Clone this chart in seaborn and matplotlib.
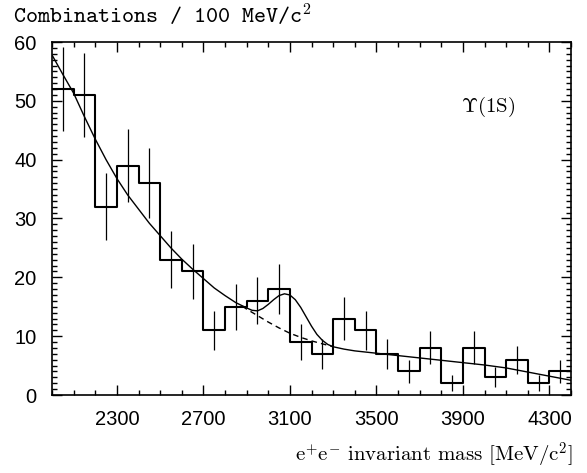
import numpy as np
import pandas as pd
import matplotlib
matplotlib.use("Agg")
import matplotlib.pyplot as plt
from matplotlib.ticker import FixedLocator, MultipleLocator
import seaborn as sns

# ---- data ----
bin_edges = [2000, 2100, 2200, 2300, 2400, 2500, 2600, 2700, 2800, 2900, 3000, 3100,
             3200, 3300, 3400, 3500, 3600, 3700, 3800, 3900, 4000, 4100, 4200, 4300, 4400]
bin_centers = [2050, 2150, 2250, 2350, 2450, 2550, 2650, 2750, 2850, 2950, 3050, 3150,
               3250, 3350, 3450, 3550, 3650, 3750, 3850, 3950, 4050, 4150, 4250, 4350]
counts = [52, 51, 32, 39, 36, 23, 21, 11, 15, 16, 18, 9,
          7, 13, 11, 7, 4, 8, 2, 8, 3, 6, 2, 4]
count_errors = [7.2, 7.1, 5.7, 6.2, 6.0, 4.8, 4.6, 3.3, 3.9, 4.0, 4.2, 3.0,
                2.6, 3.6, 3.3, 2.6, 2.0, 2.8, 1.4, 2.8, 1.7, 2.4, 1.4, 2.0]

fit_mass = [2000, 2050, 2100, 2150, 2200, 2250, 2300, 2350, 2400, 2450, 2500, 2550,
            2600, 2650, 2700, 2750, 2800, 2850, 2900, 2925, 2950, 2975, 3000, 3025,
            3050, 3075, 3100, 3125, 3150, 3175, 3200, 3225, 3250, 3275, 3300, 3350,
            3400, 3450, 3500, 3600, 3700, 3800, 3900, 4000, 4100, 4200, 4300, 4400]
fit_total = [57.8, 54.5, 51.3, 47.3, 43.5, 40.0, 36.8, 34.0, 31.6, 29.2, 27.1, 25.0,
             23.1, 21.4, 19.8, 18.2, 16.9, 15.7, 14.8, 14.4, 14.3, 14.7, 15.4, 16.2,
             16.9, 17.2, 17.0, 16.2, 14.9, 13.3, 11.7, 10.3, 9.3, 8.6, 8.2, 7.8,
             7.5, 7.3, 7.1, 6.7, 6.3, 5.9, 5.5, 5.1, 4.6, 3.9, 3.2, 2.5]

bg_mass = [2880, 2900, 2950, 3000, 3050, 3100, 3150, 3200, 3250, 3300]
bg_values = [15.1, 14.6, 13.5, 12.4, 11.4, 10.5, 9.8, 9.2, 8.7, 8.2]

x_major_ticks = [2300, 2700, 3100, 3500, 3900, 4300]

# ---- style ----
sns.set_theme(style="ticks")
plt.rcParams["font.family"] = ["Liberation Sans", "DejaVu Sans"]
plt.rcParams["mathtext.fontset"] = "cm"
plt.rcParams["axes.unicode_minus"] = False

fig = plt.figure(figsize=(5.87, 4.73), dpi=100)
ax = fig.add_axes([52 / 587, 78 / 473, (571 - 52) / 587, (395 - 42) / 473])

hist_df = pd.DataFrame({"mass": bin_centers, "count": counts})
sns.histplot(data=hist_df, x="mass", weights="count", bins=bin_edges,
             element="step", fill=False, color="black", linewidth=1.5, ax=ax)

ax.errorbar(bin_centers, counts, yerr=count_errors, fmt="none",
            ecolor="black", elinewidth=0.9, capsize=0)

tot_df = pd.DataFrame({"mass": fit_mass, "val": fit_total})
sns.lineplot(data=tot_df, x="mass", y="val", color="black", linewidth=1.0, ax=ax)
bg_df = pd.DataFrame({"mass": bg_mass, "val": bg_values})
sns.lineplot(data=bg_df, x="mass", y="val", color="black", linewidth=1.0,
             linestyle=(0, (4, 3)), ax=ax)

ax.set_xlim(2000, 4400)
ax.set_ylim(0, 60)
ax.set_xlabel("")
ax.set_ylabel("")

ax.xaxis.set_major_locator(FixedLocator(x_major_ticks))
ax.xaxis.set_minor_locator(MultipleLocator(100))
ax.yaxis.set_major_locator(MultipleLocator(10))
ax.yaxis.set_minor_locator(MultipleLocator(1))
ax.tick_params(which="both", direction="in", top=True, right=True,
               color="black", width=1.0)
ax.tick_params(which="major", length=7, labelsize=14.5, pad=11, labelcolor="black")
ax.tick_params(which="minor", length=3.5)
for sp in ax.spines.values():
    sp.set_visible(True)
    sp.set_linewidth(1.2)
    sp.set_color("black")

ax.text(3892, 48.9, r"$\Upsilon$(1S)", family="cmr10", fontsize=15,
        ha="left", va="center", color="black")

fig.text(13 / 587, 1 - 23 / 473, r"Combinations / 100 MeV/c$^2$",
         family="cmtt10", fontsize=16.5, ha="left", va="baseline", color="black")
fig.text(573 / 587, 1 - 455 / 473, r"e$^{+}$e$^{-}$ invariant mass [MeV/c$^{2}$]",
         family="cmr10", fontsize=15, ha="right", va="center", color="black")

fig.savefig("out.png", dpi=100)
